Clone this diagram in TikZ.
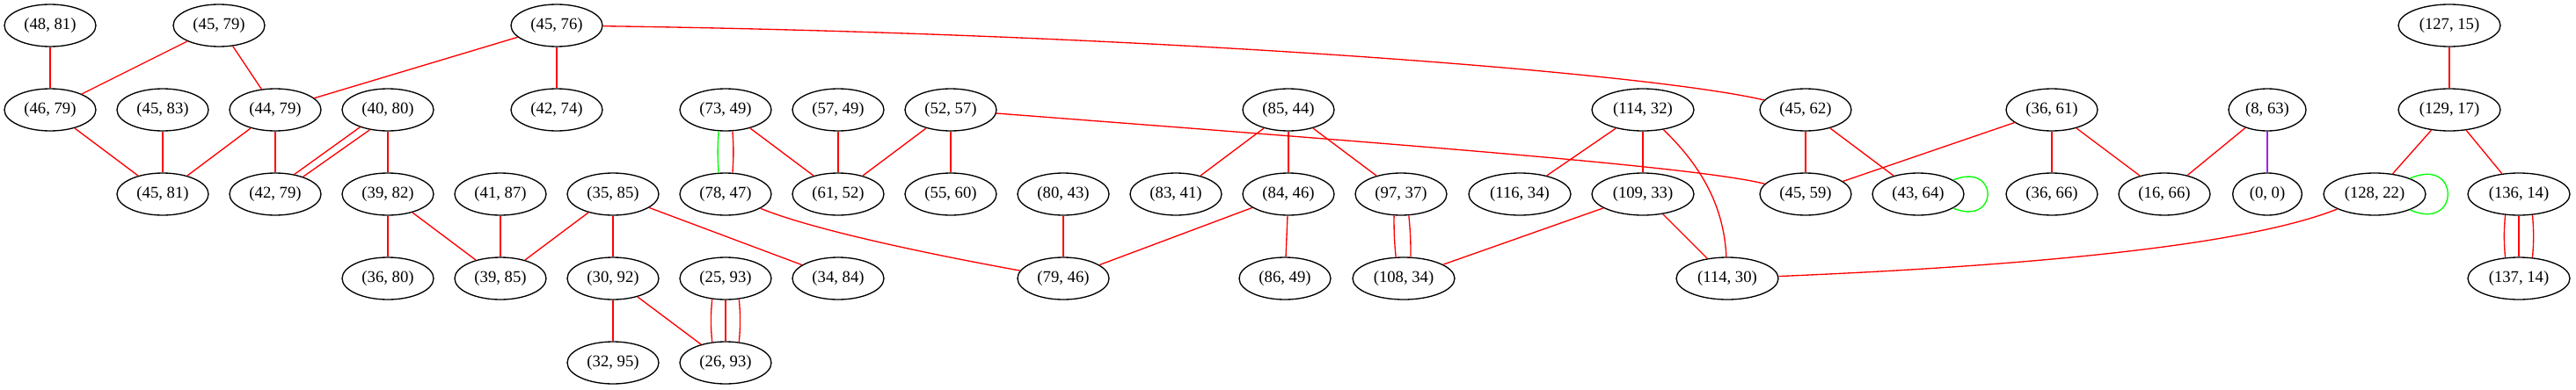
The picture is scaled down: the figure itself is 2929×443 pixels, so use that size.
\documentclass[tikz,border=0pt]{standalone}
\usepackage{fontspec}
\setmainfont{Liberation Serif}
\usetikzlibrary{shapes.geometric}
\definecolor{gvred}{RGB}{255,0,0}
\definecolor{gvgreen}{RGB}{0,255,0}
\definecolor{gvpurple}{RGB}{160,32,240}
\tikzset{
  nd/.style={ellipse, draw=black, line width=1pt, inner sep=0pt, minimum width=78pt, minimum height=36pt, font=\fontsize{14}{16}\selectfont},
  wide/.style={nd, minimum width=87pt},
  ed/.style={draw=gvred, line width=1pt},
  edg/.style={draw=gvgreen, line width=1pt},
  edp/.style={draw=gvpurple, line width=1pt}
}
\begin{document}
\begin{tikzpicture}[x=0.75pt,y=-0.75pt]
\useasboundingbox (0,0) rectangle (2929,443);
% row 1
\node[nd] (n48x81) at (57,29) {(48, 81)};
\node[nd] (n45x79) at (249,29) {(45, 79)};
\node[nd] (n45x76) at (633,29) {(45, 76)};
\node[wide] (n127x15) at (2785,29) {(127, 15)};
% row 2
\node[nd] (n46x79) at (57,125) {(46, 79)};
\node[nd] (n45x83) at (185,125) {(45, 83)};
\node[nd] (n44x79) at (313,125) {(44, 79)};
\node[nd] (n40x80) at (441,125) {(40, 80)};
\node[nd] (n42x74) at (633,125) {(42, 74)};
\node[nd] (n73x49) at (825,125) {(73, 49)};
\node[nd] (n57x49) at (953,125) {(57, 49)};
\node[nd] (n52x57) at (1081,125) {(52, 57)};
\node[nd] (n85x44) at (1465,125) {(85, 44)};
\node[wide] (n114x32) at (1868,125) {(114, 32)};
\node[nd] (n45x62) at (2053,125) {(45, 62)};
\node[nd] (n36x61) at (2333,125) {(36, 61)};
\node[nd, minimum width=66pt] (n8x63) at (2578,125) {(8, 63)};
\node[wide] (n129x17) at (2785,125) {(129, 17)};
% row 3
\node[nd] (n45x81) at (185,221) {(45, 81)};
\node[nd] (n42x79) at (313,221) {(42, 79)};
\node[nd] (n39x82) at (441,221) {(39, 82)};
\node[nd] (n41x87) at (569,221) {(41, 87)};
\node[nd] (n35x85) at (697,221) {(35, 85)};
\node[nd] (n78x47) at (825,221) {(78, 47)};
\node[nd] (n61x52) at (953,221) {(61, 52)};
\node[nd] (n55x60) at (1081,221) {(55, 60)};
\node[nd] (n80x43) at (1209,221) {(80, 43)};
\node[nd] (n83x41) at (1337,221) {(83, 41)};
\node[nd] (n84x46) at (1465,221) {(84, 46)};
\node[nd] (n97x37) at (1593,221) {(97, 37)};
\node[wide] (n116x34) at (1728,221) {(116, 34)};
\node[wide] (n109x33) at (1868,221) {(109, 33)};
\node[nd] (n45x59) at (2053,221) {(45, 59)};
\node[nd] (n43x64) at (2181,221) {(43, 64)};
\node[nd] (n36x66) at (2333,221) {(36, 66)};
\node[nd] (n16x66) at (2461,221) {(16, 66)};
\node[nd, minimum width=59pt] (n0x0) at (2578,221) {(0, 0)};
\node[wide] (n128x22) at (2700,221) {(128, 22)};
\node[wide] (n136x14) at (2864,221) {(136, 14)};
% row 4
\node[nd] (n36x80) at (441,317) {(36, 80)};
\node[nd] (n39x85) at (569,317) {(39, 85)};
\node[nd] (n30x92) at (697,317) {(30, 92)};
\node[nd] (n25x93) at (825,317) {(25, 93)};
\node[nd] (n34x84) at (953,317) {(34, 84)};
\node[nd] (n79x46) at (1209,317) {(79, 46)};
\node[nd] (n86x49) at (1461,317) {(86, 49)};
\node[wide] (n108x34) at (1596,317) {(108, 34)};
\node[wide] (n114x30) at (1964,317) {(114, 30)};
\node[wide] (n137x14) at (2864,317) {(137, 14)};
% row 5
\node[nd] (n32x95) at (697,413) {(32, 95)};
\node[nd] (n26x93) at (825,413) {(26, 93)};

% edges
\draw[ed] (n48x81) -- (n46x79);
\draw[ed] (n45x79) -- (n46x79);
\draw[ed] (n45x79) -- (n44x79);
\draw[ed] (n45x76) -- (n44x79);
\draw[ed] (n45x76) -- (n42x74);
\draw[ed] (n45x76) .. controls (1300,38) and (1870,82) .. (n45x62);
\draw[ed] (n46x79) -- (n45x81);
\draw[ed] (n45x83) -- (n45x81);
\draw[ed] (n44x79) -- (n45x81);
\draw[ed] (n44x79) -- (n42x79);
\draw[ed] (n40x80.-148) -- (n42x79.46);
\draw[ed] (n40x80.-132) -- (n42x79.32);
\draw[ed] (n40x80) -- (n39x82);
\draw[ed] (n39x82) -- (n36x80);
\draw[ed] (n39x82) -- (n39x85);
\draw[ed] (n41x87) -- (n39x85);
\draw[ed] (n35x85) -- (n39x85);
\draw[ed] (n35x85) -- (n30x92);
\draw[ed] (n35x85) -- (n34x84);
\draw[ed] (n30x92) -- (n32x95);
\draw[ed] (n30x92) -- (n26x93);
\draw[ed] (n25x93.-123) to[bend right=5] (n26x93.123);
\draw[ed] (n25x93) -- (n26x93);
\draw[ed] (n25x93.-57) to[bend left=5] (n26x93.57);
\draw[edg] (n73x49.-108) to[bend right=4] (n78x47.108);
\draw[ed] (n73x49.-72) to[bend left=4] (n78x47.72);
\draw[ed] (n73x49) -- (n61x52);
\draw[ed] (n57x49) -- (n61x52);
\draw[ed] (n52x57) -- (n61x52);
\draw[ed] (n52x57) -- (n55x60);
\draw[ed] (n52x57) .. controls (1600,165) and (1930,190) .. (n45x59);
\draw[ed] (n78x47) .. controls (925,262) and (1060,290) .. (n79x46);
\draw[ed] (n80x43) -- (n79x46);
\draw[ed] (n84x46) -- (n79x46);
\draw[ed] (n85x44) -- (n83x41);
\draw[ed] (n85x44) -- (n84x46);
\draw[ed] (n85x44) -- (n97x37);
\draw[ed] (n84x46) -- (n86x49);
\draw[ed] (n97x37.-108) to[bend right=3] (n108x34.110);
\draw[ed] (n97x37.-70) to[bend left=3] (n108x34.72);
\draw[ed] (n114x32) -- (n116x34);
\draw[ed] (n114x32) -- (n109x33);
\draw[ed] (n114x32) .. controls (1930,185) and (1960,230) .. (n114x30);
\draw[ed] (n109x33) -- (n108x34);
\draw[ed] (n109x33) -- (n114x30);
\draw[ed] (n45x62) -- (n45x59);
\draw[ed] (n45x62) -- (n43x64);
\draw[ed] (n36x61) -- (n45x59);
\draw[ed] (n36x61) -- (n36x66);
\draw[ed] (n36x61) -- (n16x66);
\draw[ed] (n8x63) -- (n16x66);
\draw[edp] (n8x63) -- (n0x0);
\draw[edg] (n43x64) to[out=22,in=-22,looseness=4.5] (n43x64);
\draw[ed] (n127x15) -- (n129x17);
\draw[ed] (n129x17) -- (n128x22);
\draw[ed] (n129x17) -- (n136x14);
\draw[edg] (n128x22) to[out=24,in=-24,looseness=4.5] (n128x22);
\draw[ed] (n128x22) .. controls (2540,285) and (2250,305) .. (n114x30);
\draw[ed] (n136x14.-123) to[bend right=5] (n137x14.123);
\draw[ed] (n136x14) -- (n137x14);
\draw[ed] (n136x14.-57) to[bend left=5] (n137x14.57);
\end{tikzpicture}
\end{document}
